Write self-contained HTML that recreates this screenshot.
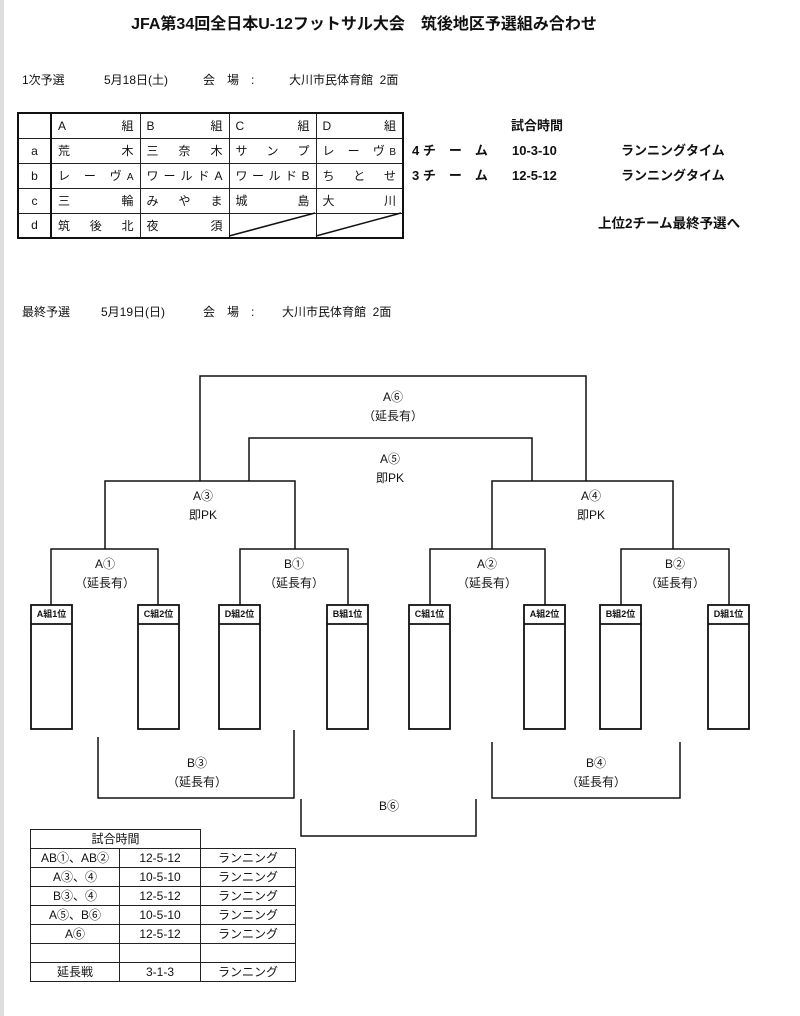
<!DOCTYPE html>
<html><head><meta charset="utf-8">
<style>
html,body{margin:0;padding:0;background:#fff;}
body{width:800px;height:1016px;position:relative;overflow:hidden;font-family:"Liberation Sans","Noto Sans CJK JP",sans-serif;color:#111;}
.t{position:absolute;white-space:nowrap;font-size:12px;line-height:14px;}
.c{transform:translateX(-50%);text-align:center;}
.b{font-weight:bold;}
.m{font-size:13px;line-height:15px;}
table.g{position:absolute;left:17px;top:112px;border-collapse:collapse;border:2.5px solid #111;}
table.g td{border:1.5px solid #222;height:25px;font-size:12px;padding:0 6px;text-align:justify;text-align-last:justify;box-sizing:border-box;}
table.g td.k{width:33px;text-align:center;text-align-last:center;padding:0;}
table.g td.w{width:89px;}
table.g td.w2{width:87px;}
table.g td.th{border-left:2.5px solid #111;}
table.h{position:absolute;left:30px;top:829px;border-collapse:collapse;}
table.h td{border:1.5px solid #222;height:19px;font-size:12px;text-align:center;padding:0;box-sizing:border-box;line-height:16px;}
.lb{position:absolute;font-size:9px;font-weight:bold;text-align:center;width:41px;line-height:19px;}
</style></head><body>
<div style="position:absolute;left:0;top:0;width:4px;height:1016px;background:#ddd"></div>
<div class="t b c" style="left:364px;top:15px;font-size:16px;line-height:19px">JFA第34回全日本U-12フットサル大会　筑後地区予選組み合わせ</div>
<div class="t" style="left:22px;top:73px">1次予選</div>
<div class="t" style="left:104px;top:73px">5月18日(土)</div>
<div class="t" style="left:203px;top:73px">会　場　:</div>
<div class="t" style="left:289px;top:73px">大川市民体育館&nbsp; 2面</div>

<table class="g">
<tr><td class="k"></td><td class="w th">A　　　組</td><td class="w">B　　　組</td><td class="w2">C　　　組</td><td class="w2">D　　　組</td></tr>
<tr><td class="k">a</td><td class="th">荒　　　木</td><td>三　奈　木</td><td>サ　ン　プ</td><td>レ　ー　ヴ <span style="font-size:10px">B</span></td></tr>
<tr><td class="k">b</td><td class="th">レ　ー　ヴ <span style="font-size:10px">A</span></td><td>ワールドA</td><td>ワールドB</td><td>ち　と　せ</td></tr>
<tr><td class="k">c</td><td class="th">三　　　輪</td><td>み　や　ま</td><td>城　　　島</td><td>大　　　川</td></tr>
<tr><td class="k">d</td><td class="th">筑　後　北</td><td>夜　　　須</td><td></td><td></td></tr>
</table>

<div class="t b m" style="left:511px;top:118px">試合時間</div>
<div class="t b m" style="left:412px;top:143px">4 チ　ー　ム</div>
<div class="t b m" style="left:512px;top:143px">10-3-10</div>
<div class="t b m" style="left:621px;top:143px">ランニングタイム</div>
<div class="t b m" style="left:412px;top:168px">3 チ　ー　ム</div>
<div class="t b m" style="left:512px;top:168px">12-5-12</div>
<div class="t b m" style="left:621px;top:168px">ランニングタイム</div>
<div class="t b" style="left:598px;top:216px;font-size:13.5px;line-height:16px">上位2チーム最終予選へ</div>

<div class="t" style="left:22px;top:305px">最終予選</div>
<div class="t" style="left:101px;top:305px">5月19日(日)</div>
<div class="t" style="left:203px;top:305px">会　場　:</div>
<div class="t" style="left:282px;top:305px">大川市民体育館&nbsp; 2面</div>

<svg style="position:absolute;left:0;top:0" width="800" height="1016">
<g stroke="#111" stroke-width="1.5" fill="none">
<line x1="229" y1="236" x2="315" y2="213"/>
<line x1="316" y1="236" x2="401" y2="213"/>
<polyline points="200,481 200,376 586,376 586,481"/>
<polyline points="249,481 249,438 532,438 532,481"/>
<polyline points="105,549 105,481 295,481 295,549"/>
<polyline points="492,549 492,481 673,481 673,549"/>
<polyline points="51,605 51,549 158,549 158,605"/>
<polyline points="240,605 240,549 348,549 348,605"/>
<polyline points="430,605 430,549 545,549 545,605"/>
<polyline points="621,605 621,549 729,549 729,605"/>
<g stroke-width="1.8">
<rect x="31" y="605" width="41" height="124"/><line x1="31" y1="624" x2="72" y2="624"/>
<rect x="138" y="605" width="41" height="124"/><line x1="138" y1="624" x2="179" y2="624"/>
<rect x="219" y="605" width="41" height="124"/><line x1="219" y1="624" x2="260" y2="624"/>
<rect x="327" y="605" width="41" height="124"/><line x1="327" y1="624" x2="368" y2="624"/>
<rect x="409" y="605" width="41" height="124"/><line x1="409" y1="624" x2="450" y2="624"/>
<rect x="524" y="605" width="41" height="124"/><line x1="524" y1="624" x2="565" y2="624"/>
<rect x="600" y="605" width="41" height="124"/><line x1="600" y1="624" x2="641" y2="624"/>
<rect x="708" y="605" width="41" height="124"/><line x1="708" y1="624" x2="749" y2="624"/>
</g>
<polyline points="98,737 98,798 294,798 294,730"/>
<polyline points="301,799 301,836 476,836 476,799"/>
<polyline points="492,742 492,798 680,798 680,742"/>
</g></svg>

<div class="lb" style="left:31px;top:605px">A組1位</div>
<div class="lb" style="left:138px;top:605px">C組2位</div>
<div class="lb" style="left:219px;top:605px">D組2位</div>
<div class="lb" style="left:327px;top:605px">B組1位</div>
<div class="lb" style="left:409px;top:605px">C組1位</div>
<div class="lb" style="left:524px;top:605px">A組2位</div>
<div class="lb" style="left:600px;top:605px">B組2位</div>
<div class="lb" style="left:708px;top:605px">D組1位</div>

<div class="t c" style="left:393px;top:390px">A⑥</div>
<div class="t c" style="left:393px;top:409px">（延長有）</div>
<div class="t c" style="left:390px;top:452px">A⑤</div>
<div class="t c" style="left:390px;top:471px">即PK</div>
<div class="t c" style="left:203px;top:489px">A③</div>
<div class="t c" style="left:203px;top:508px">即PK</div>
<div class="t c" style="left:591px;top:489px">A④</div>
<div class="t c" style="left:591px;top:508px">即PK</div>
<div class="t c" style="left:105px;top:557px">A①</div>
<div class="t c" style="left:105px;top:576px">（延長有）</div>
<div class="t c" style="left:294px;top:557px">B①</div>
<div class="t c" style="left:294px;top:576px">（延長有）</div>
<div class="t c" style="left:487px;top:557px">A②</div>
<div class="t c" style="left:487px;top:576px">（延長有）</div>
<div class="t c" style="left:675px;top:557px">B②</div>
<div class="t c" style="left:675px;top:576px">（延長有）</div>
<div class="t c" style="left:197px;top:756px">B③</div>
<div class="t c" style="left:197px;top:775px">（延長有）</div>
<div class="t c" style="left:389px;top:799px">B⑥</div>
<div class="t c" style="left:596px;top:756px">B④</div>
<div class="t c" style="left:596px;top:775px">（延長有）</div>

<table class="h">
<tr><td colspan="2" style="width:170px">試合時間</td><td style="border:none;border-left:1.5px solid #222;border-bottom:1.5px solid #222;width:95px"></td></tr>
<tr><td style="width:89px">AB①、AB②</td><td style="width:81px">12-5-12</td><td style="width:95px">ランニング</td></tr>
<tr><td>A③、④</td><td>10-5-10</td><td>ランニング</td></tr>
<tr><td>B③、④</td><td>12-5-12</td><td>ランニング</td></tr>
<tr><td>A⑤、B⑥</td><td>10-5-10</td><td>ランニング</td></tr>
<tr><td>A⑥</td><td>12-5-12</td><td>ランニング</td></tr>
<tr><td></td><td></td><td></td></tr>
<tr><td>延長戦</td><td>3-1-3</td><td>ランニング</td></tr>
</table>
</body></html>
